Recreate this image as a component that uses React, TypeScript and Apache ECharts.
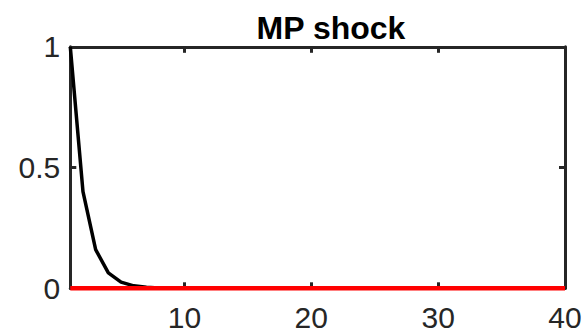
import React, { useEffect, useRef } from "react";
import * as echarts from "echarts";

const periods: number[] = [
  1, 2, 3, 4, 5, 6, 7, 8, 9, 10, 11, 12, 13, 14, 15, 16, 17, 18, 19, 20,
  21, 22, 23, 24, 25, 26, 27, 28, 29, 30, 31, 32, 33, 34, 35, 36, 37, 38, 39, 40,
];
const responseValues: number[] = [
  1, 0.4, 0.16, 0.064, 0.0256, 0.0102, 0.0041, 0.0016, 0.00066, 0.00026,
  0.0001, 0.00004, 0.00002, 0, 0, 0, 0, 0, 0, 0,
  0, 0, 0, 0, 0, 0, 0, 0, 0, 0,
  0, 0, 0, 0, 0, 0, 0, 0, 0, 0,
];
const zeroValues: number[] = [
  0, 0, 0, 0, 0, 0, 0, 0, 0, 0, 0, 0, 0, 0, 0, 0, 0, 0, 0, 0,
  0, 0, 0, 0, 0, 0, 0, 0, 0, 0, 0, 0, 0, 0, 0, 0, 0, 0, 0, 0,
];
const xTicks: number[] = [10, 20, 30, 40];
const yTicks: number[] = [0, 0.5, 1];
const titleText = "MP shock";

export default function App() {
  const ref = useRef<HTMLDivElement>(null);
  useEffect(() => {
    if (!ref.current) return;
    const chart = echarts.init(ref.current, undefined, { renderer: "svg" });
    const axisColor = "#262626";
    const font = "Liberation Sans, Arial, Helvetica, sans-serif";
    const lineStyle = { color: axisColor, width: 3 };
    const tick = (show: boolean) => ({
      show,
      inside: true,
      length: 6,
      lineStyle: { color: axisColor, width: 3 },
    });
    chart.setOption({
      animation: false,
      backgroundColor: "#ffffff",
      title: {
        text: titleText,
        left: 326,
        textAlign: "center",
        top: 7,
        textStyle: { fontFamily: font, fontSize: 32, fontWeight: "bold", color: "#000000" },
      },
      grid: { left: 70.3, right: 22, top: 46.8, bottom: 45.7, containLabel: false },
      xAxis: [
        {
          type: "value",
          min: 1,
          max: 40,
          position: "bottom",
          axisLine: { show: true, onZero: false, lineStyle },
          axisTick: { ...tick(true), customValues: xTicks },
          axisLabel: {
            customValues: xTicks,
            color: axisColor,
            fontFamily: font,
            fontSize: 30,
            margin: 14,
          },
          splitLine: { show: false },
        },
        {
          type: "value",
          min: 1,
          max: 40,
          position: "top",
          axisLine: { show: true, onZero: false, lineStyle },
          axisTick: { ...tick(true), customValues: xTicks },
          axisLabel: { show: false },
          splitLine: { show: false },
        },
      ],
      yAxis: [
        {
          type: "value",
          min: 0,
          max: 1,
          position: "left",
          axisLine: { show: true, onZero: false, lineStyle },
          axisTick: { ...tick(true), customValues: yTicks },
          axisLabel: {
            customValues: yTicks,
            color: axisColor,
            fontFamily: font,
            fontSize: 30,
            margin: 10,
          },
          splitLine: { show: false },
        },
        {
          type: "value",
          min: 0,
          max: 1,
          position: "right",
          axisLine: { show: true, onZero: false, lineStyle },
          axisTick: { ...tick(true), customValues: yTicks },
          axisLabel: { show: false },
          splitLine: { show: false },
        },
      ],
      series: [
        {
          type: "line",
          data: periods.map((p, i) => [p, responseValues[i]]),
          showSymbol: false,
          clip: false,
          lineStyle: { color: "#000000", width: 3.5 },
          z: 3,
        },
        {
          type: "line",
          data: periods.map((p, i) => [p, zeroValues[i]]),
          showSymbol: false,
          clip: false,
          lineStyle: { color: "#ff0000", width: 4.5 },
          z: 4,
        },
      ],
    });
    return () => chart.dispose();
  }, []);
  return (
    <div
      ref={ref}
      style={{ position: "fixed", left: 0, top: 0, width: 587, height: 334 }}
    />
  );
}
